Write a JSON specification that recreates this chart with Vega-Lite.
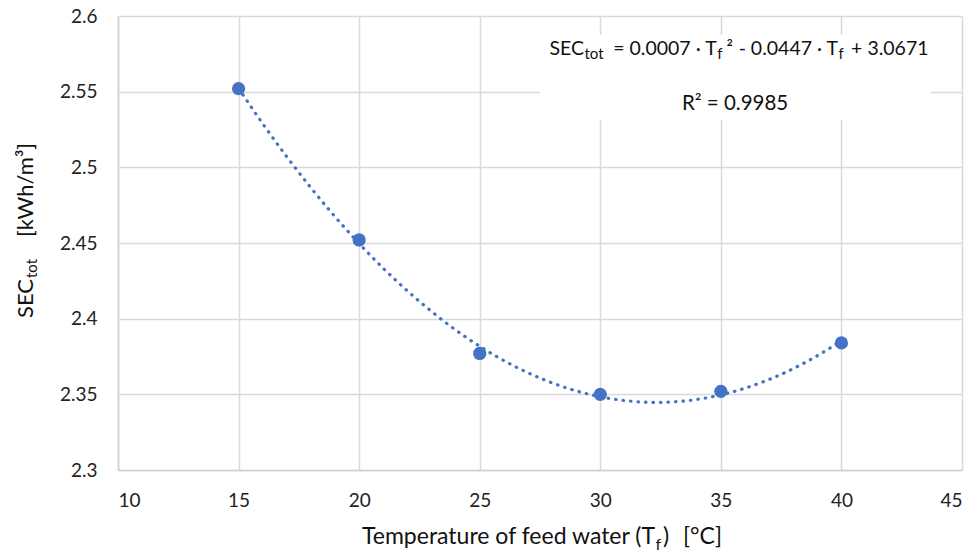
{
  "$schema": "https://vega.github.io/schema/vega-lite/v6.json",
  "width": 844,
  "height": 454,
  "autosize": {"type": "none"},
  "padding": {"left": 118, "top": 16, "right": 13, "bottom": 83},
  "background": "white",
  "config": {
    "view": {"stroke": null},
    "font": "Lato",
    "axis": {
      "gridColor": "#d9d9d9",
      "gridWidth": 1.5,
      "domainColor": "#d0d0d0",
      "domainWidth": 1.5,
      "ticks": false,
      "labelFont": "Lato",
      "labelFontSize": 19,
      "labelColor": "#222222",
      "title": null
    }
  },
  "datasets": {
    "points": [
      {"T": 15, "SEC": 2.552},
      {"T": 20, "SEC": 2.452},
      {"T": 25, "SEC": 2.377},
      {"T": 30, "SEC": 2.350},
      {"T": 35, "SEC": 2.352},
      {"T": 40, "SEC": 2.384}
    ],
    "box": [{"x1": 27.5, "x2": 43.7, "y1": 2.5313, "y2": 2.5874}],
    "labels": [
      {"group": "eq", "kind": "right", "text": "SEC", "x": 29.326, "y": 2.57423},
      {"group": "eq", "kind": "sub", "text": "tot", "x": 29.326, "y": 2.57423},
      {"group": "eq", "kind": "right", "text": "= 0.0007 · T", "x": 34.826, "y": 2.57423},
      {"group": "eq", "kind": "sub", "text": "f", "x": 34.826, "y": 2.57423},
      {"group": "eq", "kind": "left", "text": "²", "x": 35.237, "y": 2.57423},
      {"group": "eq", "kind": "right", "text": "- 0.0447 · T", "x": 39.858, "y": 2.57423},
      {"group": "eq", "kind": "sub", "text": "f", "x": 39.858, "y": 2.57423},
      {"group": "eq", "kind": "left", "text": "+ 3.0671", "x": 40.4, "y": 2.57423},
      {"group": "eq", "kind": "center", "text": "R² = 0.9985", "x": 35.59, "y": 2.53789},
      {"group": "xt", "kind": "right", "text": "Temperature of feed water (T", "x": 32.269, "y": 2.2511},
      {"group": "xt", "kind": "sub", "text": "f", "x": 32.269, "y": 2.2511},
      {"group": "xt", "kind": "left", "text": ")", "x": 32.601, "y": 2.2511},
      {"group": "xt", "kind": "left", "text": "[°C]", "x": 33.431, "y": 2.2511},
      {"group": "yt", "kind": "left", "text": "SEC", "x": 6.475, "y": 2.40044},
      {"group": "yt", "kind": "sub", "text": "tot", "x": 6.475, "y": 2.42687},
      {"group": "yt", "kind": "right", "text": "[kWh/m³]", "x": 6.475, "y": 2.51608}
    ]
  },
  "layer": [
    {
      "data": {"name": "points"},
      "mark": {"type": "point", "opacity": 0},
      "encoding": {
        "x": {"field": "T", "type": "quantitative", "scale": {"domain": [10, 45], "nice": false, "zero": false},
              "axis": {"values": [10, 15, 20, 25, 30, 35, 40, 45], "grid": true, "labelPadding": 21}},
        "y": {"field": "SEC", "type": "quantitative", "scale": {"domain": [2.3, 2.6], "nice": false, "zero": false},
              "axis": {"values": [2.3, 2.35, 2.4, 2.45, 2.5, 2.55, 2.6], "grid": true, "format": ".2~f", "labelPadding": 21}}
      }
    },
    {
      "data": {"name": "box"},
      "mark": {"type": "rect", "fill": "white", "stroke": null},
      "encoding": {
        "x": {"field": "x1", "type": "quantitative"},
        "x2": {"field": "x2"},
        "y": {"field": "y1", "type": "quantitative"},
        "y2": {"field": "y2"}
      }
    },
    {
      "data": {"name": "points"},
      "transform": [{"regression": "SEC", "on": "T", "method": "poly", "order": 2, "extent": [15, 40]}],
      "mark": {"type": "line", "color": "#4472C4", "strokeWidth": 3.2, "strokeCap": "round", "strokeDash": [0.5, 7], "interpolate": "monotone"},
      "encoding": {
        "x": {"field": "T", "type": "quantitative"},
        "y": {"field": "SEC", "type": "quantitative"}
      }
    },
    {
      "data": {"name": "points"},
      "mark": {"type": "circle", "color": "#4472C4", "opacity": 1, "size": 175},
      "encoding": {
        "x": {"field": "T", "type": "quantitative"},
        "y": {"field": "SEC", "type": "quantitative"}
      }
    },
    {
      "data": {"name": "labels"},
      "transform": [{"filter": "datum.group === 'eq' && datum.kind === 'left'"}],
      "mark": {"type": "text", "align": "left", "baseline": "alphabetic", "fontSize": 19.5, "color": "#111111"},
      "encoding": {
        "x": {"field": "x", "type": "quantitative"},
        "y": {"field": "y", "type": "quantitative"},
        "text": {"field": "text"}
      }
    },
    {
      "data": {"name": "labels"},
      "transform": [{"filter": "datum.group === 'eq' && datum.kind === 'right'"}],
      "mark": {"type": "text", "align": "right", "baseline": "alphabetic", "fontSize": 19.5, "color": "#111111"},
      "encoding": {
        "x": {"field": "x", "type": "quantitative"},
        "y": {"field": "y", "type": "quantitative"},
        "text": {"field": "text"}
      }
    },
    {
      "data": {"name": "labels"},
      "transform": [{"filter": "datum.group === 'eq' && datum.kind === 'center'"}],
      "mark": {"type": "text", "align": "center", "baseline": "alphabetic", "fontSize": 20.5, "color": "#111111"},
      "encoding": {
        "x": {"field": "x", "type": "quantitative"},
        "y": {"field": "y", "type": "quantitative"},
        "text": {"field": "text"}
      }
    },
    {
      "data": {"name": "labels"},
      "transform": [{"filter": "datum.group === 'eq' && datum.kind === 'sub'"}],
      "mark": {"type": "text", "align": "left", "baseline": "alphabetic", "fontSize": 15, "dy": 4, "dx": 0.5, "color": "#111111"},
      "encoding": {
        "x": {"field": "x", "type": "quantitative"},
        "y": {"field": "y", "type": "quantitative"},
        "text": {"field": "text"}
      }
    },
    {
      "data": {"name": "labels"},
      "transform": [{"filter": "datum.group === 'xt' && datum.kind === 'left'"}],
      "mark": {"type": "text", "align": "left", "baseline": "alphabetic", "fontSize": 23, "color": "#111111"},
      "encoding": {
        "x": {"field": "x", "type": "quantitative"},
        "y": {"field": "y", "type": "quantitative"},
        "text": {"field": "text"}
      }
    },
    {
      "data": {"name": "labels"},
      "transform": [{"filter": "datum.group === 'xt' && datum.kind === 'right'"}],
      "mark": {"type": "text", "align": "right", "baseline": "alphabetic", "fontSize": 23, "color": "#111111"},
      "encoding": {
        "x": {"field": "x", "type": "quantitative"},
        "y": {"field": "y", "type": "quantitative"},
        "text": {"field": "text"}
      }
    },
    {
      "data": {"name": "labels"},
      "transform": [{"filter": "datum.group === 'xt' && datum.kind === 'sub'"}],
      "mark": {"type": "text", "align": "left", "baseline": "alphabetic", "fontSize": 16, "dy": 6, "dx": 0.5, "color": "#111111"},
      "encoding": {
        "x": {"field": "x", "type": "quantitative"},
        "y": {"field": "y", "type": "quantitative"},
        "text": {"field": "text"}
      }
    },
    {
      "data": {"name": "labels"},
      "transform": [{"filter": "datum.group === 'yt' && datum.kind === 'left'"}],
      "mark": {"type": "text", "align": "left", "baseline": "alphabetic", "fontSize": 22, "angle": 270, "color": "#111111"},
      "encoding": {
        "x": {"field": "x", "type": "quantitative"},
        "y": {"field": "y", "type": "quantitative"},
        "text": {"field": "text"}
      }
    },
    {
      "data": {"name": "labels"},
      "transform": [{"filter": "datum.group === 'yt' && datum.kind === 'right'"}],
      "mark": {"type": "text", "align": "right", "baseline": "alphabetic", "fontSize": 22, "angle": 270, "color": "#111111"},
      "encoding": {
        "x": {"field": "x", "type": "quantitative"},
        "y": {"field": "y", "type": "quantitative"},
        "text": {"field": "text"}
      }
    },
    {
      "data": {"name": "labels"},
      "transform": [{"filter": "datum.group === 'yt' && datum.kind === 'sub'"}],
      "mark": {"type": "text", "align": "left", "baseline": "alphabetic", "fontSize": 15, "angle": 270, "dy": 4, "color": "#111111"},
      "encoding": {
        "x": {"field": "x", "type": "quantitative"},
        "y": {"field": "y", "type": "quantitative"},
        "text": {"field": "text"}
      }
    }
  ]
}
